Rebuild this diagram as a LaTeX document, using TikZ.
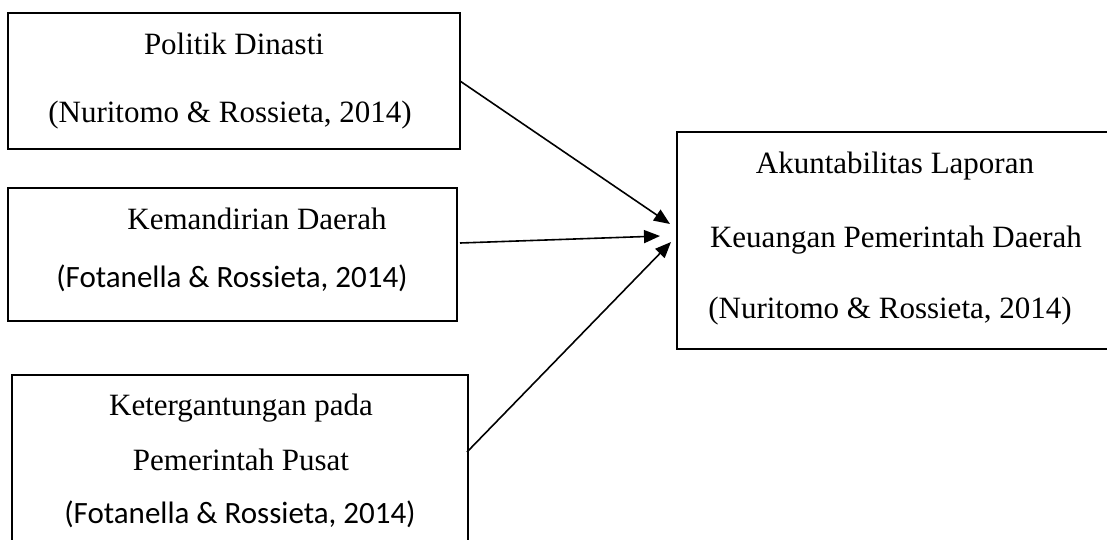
\documentclass[tikz,border=0pt]{standalone}
\usepackage{fontspec}
\setmainfont{Liberation Serif}
\newfontfamily\calfont{Carlito}
\usetikzlibrary{arrows.meta}
\begin{document}
\begin{tikzpicture}[x=1pt,y=-1pt,
  boxnode/.style={draw=black,line width=1.5pt,anchor=north west,inner sep=0pt,outer sep=0pt},
  txt/.style={anchor=base,inner sep=0pt,font=\fontsize{31}{37}\selectfont},
  ctxt/.style={anchor=base,inner sep=0pt,font=\calfont\fontsize{31}{37}\selectfont},
  conn/.style={line width=1.6pt,-{Triangle[length=16pt,width=13pt]}}]
\clip (0,0) rectangle (1107,539);
\fill[white] (0,0) rectangle (1107,539);
% boxes
\node[boxnode,minimum width=452pt,minimum height=136pt] (b1) at (8,13) {};
\node[boxnode,minimum width=449pt,minimum height=133pt] (b2) at (8,188) {};
\node[boxnode,minimum width=456pt,minimum height=190pt] (b3) at (12,375) {};
\node[boxnode,minimum width=440pt,minimum height=217pt] (b4) at (677,132) {};
% texts
\node[txt] (t11) at (234,54) {Politik Dinasti};
\node[txt] (t12) at (230,122) {(Nuritomo \& Rossieta, 2014)};
\node[txt] (t21) at (257,229) {Kemandirian Daerah};
\node[ctxt] (t22) at (232,287) {(Fotanella \& Rossieta, 2014)};
\node[txt] (t31) at (241,415) {Ketergantungan pada};
\node[txt] (t32) at (241,470) {Pemerintah Pusat};
\node[ctxt] (t33) at (240,523) {(Fotanella \& Rossieta, 2014)};
\node[txt] (t41) at (895,173) {Akuntabilitas Laporan};
\node[txt] (t42) at (896,247) {Keuangan Pemerintah Daerah};
\node[txt] (t43) at (890,318) {(Nuritomo \& Rossieta, 2014)};
% connector end points
\coordinate (s2) at (460,243);
\coordinate (s3) at (467,452);
\coordinate (e1) at (670,224);
\coordinate (e2) at (660,236);
\coordinate (e3) at (671,242);
\draw[conn] (b1.east) -- (e1);
\draw[conn] (s2) -- (e2);
\draw[conn] (s3) -- (e3);
\end{tikzpicture}
\end{document}
